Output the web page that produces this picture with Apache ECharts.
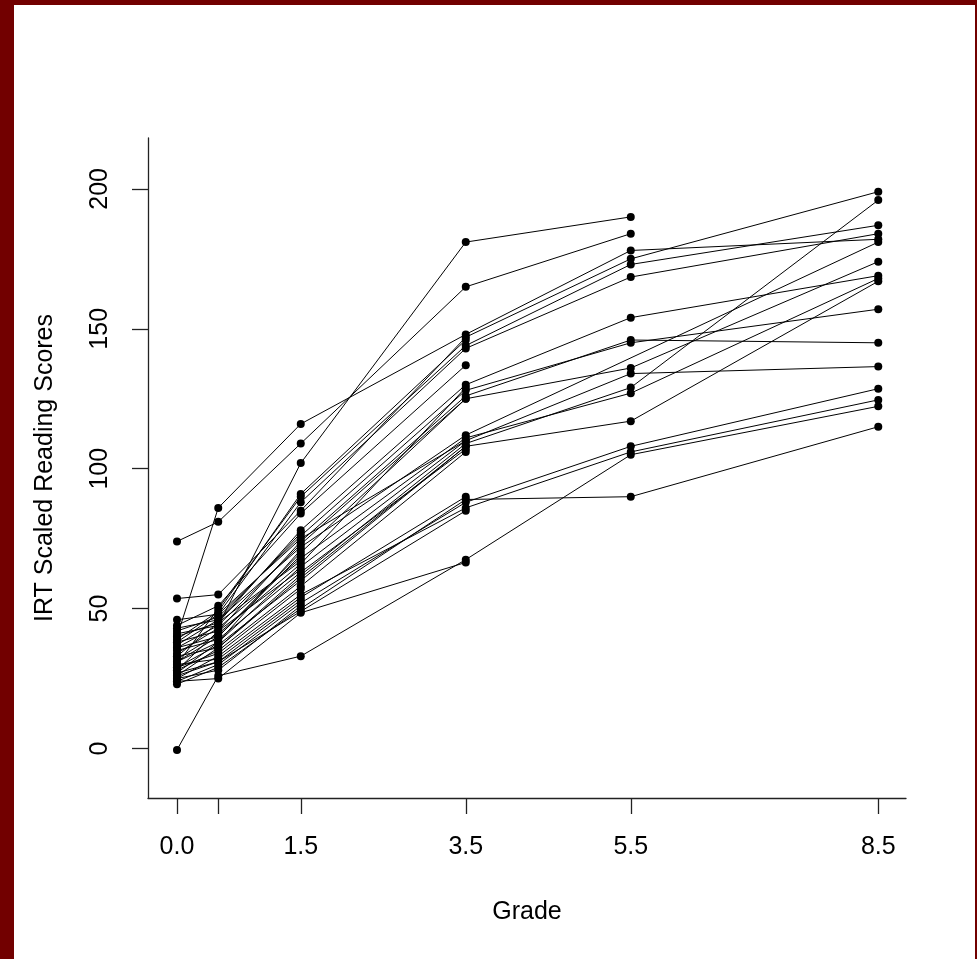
<!DOCTYPE html>
<html>
<head>
<meta charset="utf-8">
<script src="https://cdn.jsdelivr.net/npm/echarts@6/dist/echarts.min.js"></script>
<style>
  html, body { margin: 0; padding: 0; width: 977px; height: 959px; background: #720000; overflow: hidden; }
  #panel { position: absolute; left: 14px; top: 5px; width: 961px; height: 954px; background: #ffffff; }
  #chart { position: absolute; left: 0; top: 0; width: 977px; height: 959px; }
</style>
</head>
<body>
<div id="panel"></div>
<div id="chart"></div>
<script>
// Measurement occasions (grade)
const grades = [0, 0.5, 1.5, 3.5, 5.5, 8.5];
const xTickValues = [0, 0.5, 1.5, 3.5, 5.5, 8.5];
const xLabelValues = [0, 1.5, 3.5, 5.5, 8.5];
const yTickValues = [0, 50, 100, 150, 200];

// IRT scaled reading scores per grade, one entry per child (null = not observed)
const scoresG00 = [40, 74, 36, 53.6, 30, 38, 33, 28, 42, 31, 27, 26, 34, 29, 24, 25, -0.5, 23, 37, 39, 44, 32, 35, 28, 46, 30, 26, 24, 41, 33, 36, 29, 43, 27, 38, 31, 25, 40];
const scoresG05 = [86, 81, 44, 55, 50, 48, 45, 42, 47, 40, 38, 36, 43, 37, 30, 33, 26, 29, 46, 49, 51, 41, 39, 35, 48, 32, 31, 25, 44, 36, 40, 34, 46, 31, 42, 38, 28, 45];
const scoresG15 = [116, 109, 102, 85, 90, 88, 78, 74, 76, 70, 65, 62, 68, 60, 52, 55, 33, 50, 72, 91, 84, 66, 63, 58, 75, 54, 49, 48.5, 73, 61, 69, 57, 77, 53, 64, 71, 51, 67];
const scoresG35 = [148, 165, 181, 147, 144, 143, 130, 126, 128, 125, 110, 109, 111, 108, 88, 86, 67.5, 89, 112, 146, 137, 129, 107, 106, 110, 90, 85, 66.5, 125, 108, null, null, null, null, null, null, null, null];
const scoresG55 = [178, 184, 190, 175, 173, 168.5, 154, 146, 145, 136, 134, 129, 127, 117, 108, 106, 105, 90, null, null, null, null, null, null, null, null, null, null, null, null, null, null, null, null, null, null, null, null];
const scoresG85 = [182, null, null, 199, 187, 184, 169, 145, 157, 174, 136.5, 196, 168, 167, 128.6, 124.6, 122.3, 115, 181, null, null, null, null, null, null, null, null, null, null, null, null, null, null, null, null, null, null, null];

const byGrade = [scoresG00, scoresG05, scoresG15, scoresG35, scoresG55, scoresG85];
const nChildren = scoresG00.length;

const FONT = "'Liberation Sans', Arial, sans-serif";
const series = [];
for (let i = 0; i < nChildren; i++) {
  const pts = [];
  for (let g = 0; g < grades.length; g++) {
    const v = byGrade[g][i];
    if (v !== null && v !== undefined) pts.push([grades[g], v]);
  }
  series.push({
    type: 'line',
    data: pts,
    symbol: 'circle',
    symbolSize: 8,
    showSymbol: true,
    itemStyle: { color: '#000000' },
    lineStyle: { color: '#000000', width: 1 },
    emphasis: { disabled: true },
    silent: true,
    animation: false,
    z: 2
  });
}

const chart = echarts.init(document.getElementById('chart'), null, { renderer: 'canvas' });
chart.setOption({
  backgroundColor: 'transparent',
  animation: false,
  grid: { left: 148, top: 138, width: 758, height: 660, containLabel: false, outerBoundsMode: 'none' },
  xAxis: {
    type: 'value',
    min: -0.3515,
    max: 8.836,
    name: 'Grade',
    nameLocation: 'middle',
    nameGap: 102,
    nameTextStyle: { color: '#000', fontSize: 25, fontFamily: FONT },
    axisLine: { show: true, onZero: false, lineStyle: { color: '#222', width: 1.3 } },
    axisTick: { show: true, inside: false, length: 16, customValues: xTickValues, lineStyle: { color: '#222', width: 1.3 } },
    axisLabel: { show: true, margin: 37, customValues: xLabelValues, color: '#000', fontSize: 25, fontFamily: FONT,
      formatter: v => Number(v).toFixed(1) },
    splitLine: { show: false }
  },
  yAxis: {
    type: 'value',
    min: -17.69,
    max: 218.2,
    name: 'IRT Scaled Reading Scores',
    nameLocation: 'middle',
    nameGap: 90,
    nameTextStyle: { color: '#000', fontSize: 25, fontFamily: FONT },
    axisLine: { show: true, onZero: false, lineStyle: { color: '#222', width: 1.3 } },
    axisTick: { show: true, inside: false, length: 16, customValues: yTickValues, lineStyle: { color: '#222', width: 1.3 } },
    axisLabel: { show: true, rotate: 90, margin: 35, customValues: yTickValues, color: '#000', fontSize: 25, fontFamily: FONT },
    splitLine: { show: false }
  },
  series: series
});
</script>
</body>
</html>
